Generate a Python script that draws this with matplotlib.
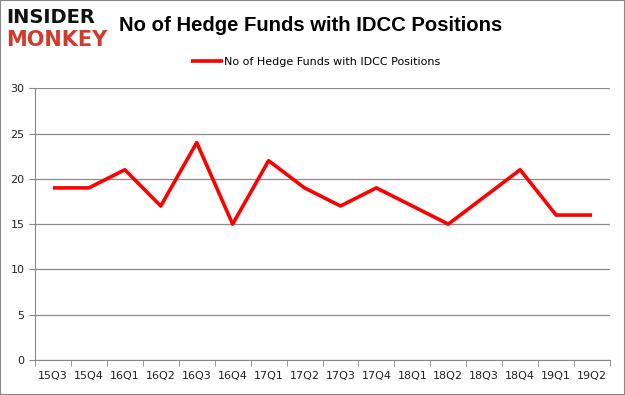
import matplotlib.pyplot as plt
from matplotlib.patches import Rectangle

quarters = ["15Q3", "15Q4", "16Q1", "16Q2", "16Q3", "16Q4", "17Q1", "17Q2",
            "17Q3", "17Q4", "18Q1", "18Q2", "18Q3", "18Q4", "19Q1", "19Q2"]
funds = [19, 19, 21, 17, 24, 15, 22, 19, 17, 19, 17, 15, 18, 21, 16, 16]
y_ticks = [0, 5, 10, 15, 20, 25, 30]

fig = plt.figure(figsize=(6.25, 3.95), dpi=100)
ax = fig.add_axes([0.056, 0.0886, 0.92, 0.688])

x = list(range(len(quarters)))
ax.plot(x, funds, color="#ff0000", linewidth=2.6, solid_capstyle="butt",
        label="No of Hedge Funds with IDCC Positions")

ax.set_xlim(-0.5, len(quarters) - 0.5)
ax.set_ylim(0, 30)
ax.set_yticks(y_ticks)
ax.set_xticks(x)
ax.set_xticklabels(quarters)
ax.set_xticks([i - 0.5 for i in range(len(quarters) + 1)], minor=True)
ax.tick_params(axis="x", which="major", length=0, labelsize=8, pad=8, colors="#222222")
ax.tick_params(axis="x", which="minor", length=4, color="#868686")
ax.tick_params(axis="y", length=4, color="#868686", labelsize=8, colors="#222222")
ax.grid(axis="y", color="#8c8c8c", linewidth=0.9)
ax.set_axisbelow(True)
for side in ["top", "right"]:
    ax.spines[side].set_visible(False)
for side in ["left", "bottom"]:
    ax.spines[side].set_color("#868686")

fig.legend(loc="center", bbox_to_anchor=(0.505, 0.843), frameon=False,
           fontsize=8, handlelength=2.8, handletextpad=0.1)

fig.text(0.19, 0.935, "No of Hedge Funds with IDCC Positions", fontsize=14.6,
         fontweight="bold", ha="left", va="center", family="Liberation Sans")
fig.text(0.01, 0.955, "INSIDER", fontsize=14, fontweight="heavy", color="#111111",
         ha="left", va="center", family="DejaVu Sans")
fig.text(0.01, 0.9, "MONKEY", fontsize=15, fontweight="heavy", color="#d33a2c",
         ha="left", va="center", family="DejaVu Sans")

fig.patches.append(Rectangle((0, 0), 1, 1, transform=fig.transFigure, fill=False,
                             edgecolor="#888888", linewidth=1.5))

fig.savefig("out.png", dpi=100)
